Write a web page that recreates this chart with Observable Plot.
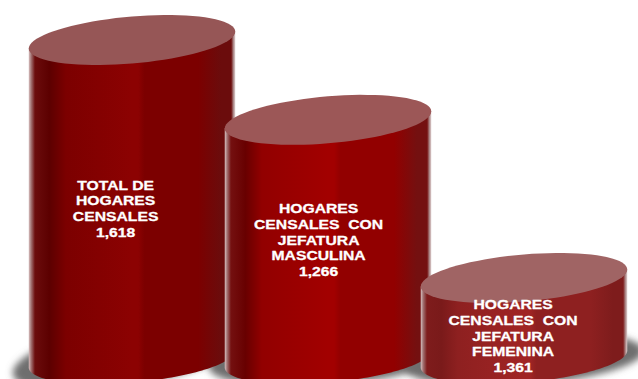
<!DOCTYPE html>
<html>
<head>
<meta charset="utf-8">
<style>
html,body{margin:0;padding:0;background:#fff;overflow:hidden}
svg{display:block}
</style>
<script src="https://cdn.jsdelivr.net/npm/d3@7"></script>
<script src="https://cdn.jsdelivr.net/npm/@observablehq/plot@0.6"></script>
</head>
<body>
<div id="chart"></div>
<script>
// Categories and values as printed on the chart
const categorias = ["TOTAL DE\nHOGARES\nCENSALES", "HOGARES\nCENSALES  CON\nJEFATURA\nMASCULINA", "HOGARES\nCENSALES  CON\nJEFATURA\nFEMENINA"];
const valoresImpresos = ["1,618", "1,266", "1,361"];
// Drawn heights (they do not follow the printed figures)
const alturas = [1618, 1213, 411];

const tonos = [
  {tapa:"#965656", edge:"#5c0000", mid:"#7c0000", peak:"#8c0202", rim:"#6b0c0c"},
  {tapa:"#9c5757", edge:"#680000", mid:"#920000", peak:"#a20000", rim:"#741010"},
  {tapa:"#a06464", edge:"#7a1a1a", mid:"#8e2020", peak:"#a02424", rim:"#7e1c1c"}
];
const sombras = [
  {dy:-6, b:32, s:20},
  {dy:0, b:26, s:8},
  {dy:0, b:26, s:8}
];
const etiquetas = [
  {dx:-17, dy:178},
  {dx:-10, dy:201.5},
  {dx:-11.5, dy:297.5}
];

const filas = categorias.map((c, i) => ({categoria:c, altura:alturas[i], i}));

function elipse(cx, cy, a, b, s, t0, t1, n = 80) {
  return d3.range(n + 1).map(k => {
    const t = t0 + (t1 - t0) * k / n;
    return [cx + a * Math.cos(t), cy + b * Math.sin(t) - s * Math.cos(t)];
  });
}
const linea = d3.line();

function cilindros(index, scales, values) {
  const g = d3.create("svg:g");
  const defs = g.append("defs");
  defs.append("filter").attr("id", "sombra")
    .attr("x", "-30%").attr("y", "-60%").attr("width", "160%").attr("height", "220%")
    .append("feGaussianBlur").attr("stdDeviation", 3.5);
  const bw = scales.x.bandwidth();
  const a = (bw + 10.5) / 2, b = 23.5, s = 8.5;
  const geo = Array.from(index, i => ({
    i, cx: values.x[i] + bw / 2, top: values.y2[i], base: values.y1[i]
  }));
  for (const c of geo) {
    const k = sombras[c.i];
    g.append("path")
      .attr("d", linea(elipse(c.cx, c.base + k.dy, a + 16, k.b, k.s, 0, 2 * Math.PI)) + "Z")
      .attr("fill", "#6e6e6e").attr("filter", "url(#sombra)");
  }
  for (const c of geo) {
    const t = tonos[c.i], id = "cil" + c.i;
    const gr = defs.append("linearGradient").attr("id", id)
      .attr("x1", 0).attr("x2", 1).attr("y1", 0).attr("y2", 0);
    [[0, "#d8c0c0"], [.012, "#a07070"], [.03, t.rim], [.1, t.edge], [.18, t.mid], [.5, t.peak],
     [.53, t.peak], [.56, t.mid], [.82, t.mid], [.93, t.rim], [.98, t.rim], [.992, "#b09090"], [1, "#e0d0d0"]]
      .forEach(([o, col]) => gr.append("stop").attr("offset", o).attr("stop-color", col));
    const cuerpo = [
      ...elipse(c.cx, c.top, a, b, s, Math.PI, 0).slice(0, 1),
      ...elipse(c.cx, c.base, a, b, s, Math.PI, 0),
      ...elipse(c.cx, c.top, a, b, s, 0, 0).slice(0, 1)
    ];
    g.append("path").attr("d", linea(cuerpo) + "Z").attr("fill", `url(#${id})`);
    g.append("path").attr("d", linea(elipse(c.cx, c.top, a, b, s, 0, 2 * Math.PI)) + "Z").attr("fill", t.tapa);
  }
  return g.node();
}

// Labels are drawn by Plot.text, then stretched horizontally about their centre
const estirar = 1.21;
const textoMarks = filas.map((f, i) => Plot.text([f], {
  x: "categoria",
  text: d => d.categoria + "\n" + valoresImpresos[d.i],
  frameAnchor: "top",
  lineAnchor: "top",
  lineHeight: 1.21,
  dx: etiquetas[i].dx,
  dy: etiquetas[i].dy,
  fill: "#fff",
  stroke: "#fff",
  strokeWidth: 0.3,
  fontSize: 13,
  fontWeight: "bold",
  textAnchor: "middle",
  style: {letterSpacing: "0.1px"},
  render(index, scales, values, dims, ctx, next) {
    const node = next(index, scales, values, dims, ctx);
    const cx = values.x[index[0]] + etiquetas[i].dx + scales.x.bandwidth() / 2;
    const w = d3.create("svg:g").attr("transform", `translate(${cx},0) scale(${estirar},1) translate(${-cx},0)`);
    w.node().append(node);
    return w.node();
  }
}));

const plot = Plot.plot({
  width: 638, height: 379,
  marginTop: 0, marginBottom: 0, marginLeft: 0, marginRight: 0,
  style: {background: "#fff", fontFamily: "'Liberation Sans', Arial, sans-serif", overflow: "hidden"},
  x: {domain: categorias, range: [33.25, 622.75], padding: 0, axis: null},
  y: {domain: [0, 1618], range: [359, 40], axis: null},
  marks: [
    Plot.barY(filas, {x: "categoria", y: "altura", render: cilindros}),
    ...textoMarks
  ]
});
document.getElementById("chart").append(plot);
</script>
</body>
</html>
